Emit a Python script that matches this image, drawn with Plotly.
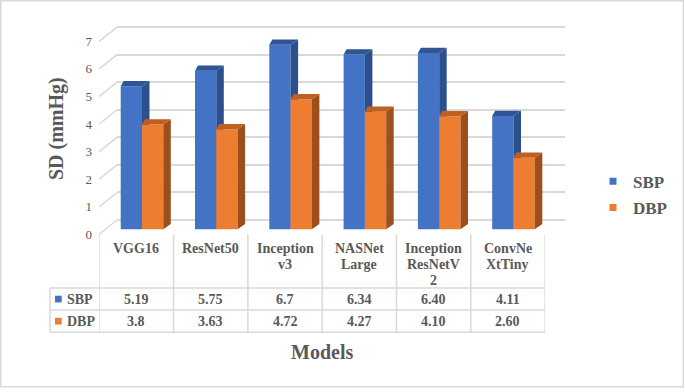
import numpy as np
import plotly.graph_objects as go

# ---------------- data ----------------
models = ["VGG16", "ResNet50", "Inception<br>v3", "NASNet<br>Large",
          "Inception<br>ResNetV<br>2", "ConvNe<br>XtTiny"]
sbp = [5.19, 5.75, 6.7, 6.34, 6.40, 4.11]
dbp = [3.8, 3.63, 4.72, 4.27, 4.10, 2.60]
sbp_text = ["5.19", "5.75", "6.7", "6.34", "6.40", "4.11"]
dbp_text = ["3.8", "3.63", "4.72", "4.27", "4.10", "2.60"]
series_names = ["SBP", "DBP"]
y_ticks = [0, 1, 2, 3, 4, 5, 6, 7]
y_title = "SD (mmHg)"
x_title = "Models"

# ---------------- style / geometry ----------------
W, H = 685, 392
BLUE, BLUE_SIDE, BLUE_TOP = "#4472C4", "#2C4F8E", "#2F5597"
ORANGE, ORANGE_SIDE, ORANGE_TOP = "#ED7D31", "#9C4E1B", "#BF5F20"
GRID = "#D9D9D9"
TEXT = "#595959"
FONT = "Liberation Serif"

S = 27.85            # px per unit on y
PY_TOP, PY_BOT = 20, 240
COL_L, COL_W = 99.3, 74.3
BACK_L, BACK_R = 117, 565
PY0_BACK, PY0_BAR, PY0_FRONT = 222.3, 231.7, 236.7
HDR_BOT, R1_BOT, R2_BOT, KEY_L = 291, 313.3, 335.7, 50

n = len(models)


def fy(py):
    return 1 - py / H


def fx(px):
    return px / W


def yrange(py0):
    return [(py0 - PY_BOT) / S, (py0 - PY_TOP) / S]


y_dom = [fy(PY_BOT), fy(PY_TOP)]
x2_dom = [fx(COL_L), fx(COL_L + n * COL_W)]

BAR_W = 21.3 / COL_W
OFF1 = -0.5 + 21.4 / COL_W
OFF2 = OFF1 + BAR_W
DX, DXL, DY = 7.5 / COL_W, 3 / COL_W, 5.3 / S

xpos = np.arange(n)


def faces(vals, off):
    sx, sy, tx, ty = [], [], [], []
    for i, v in enumerate(vals):
        xl = i + off
        xr = xl + BAR_W
        sx += [xr, xr + DX, xr + DX, xr, xr, None]
        sy += [0, DY, v + DY, v, 0, None]
        tx += [xl, xr, xr + DX, xl + DXL, xl, None]
        ty += [v, v, v + DY, v + DY, v, None]
    return sx, sy, tx, ty


fig = go.Figure()

for vals, off, col, side, top, yax in [
    (sbp, OFF1, BLUE, BLUE_SIDE, BLUE_TOP, "y2"),
    (dbp, OFF2, ORANGE, ORANGE_SIDE, ORANGE_TOP, "y3"),
]:
    fig.add_trace(go.Bar(x=xpos, y=vals, width=BAR_W, offset=off,
                         marker=dict(color=col, line=dict(width=0)),
                         xaxis="x2", yaxis=yax, showlegend=False,
                         hoverinfo="y"))
    sx, sy, tx, ty = faces(vals, off)
    fig.add_trace(go.Scatter(x=sx, y=sy, mode="lines", fill="toself",
                             fillcolor=side, line=dict(width=0, color=side),
                             xaxis="x2", yaxis=yax, showlegend=False,
                             hoverinfo="skip"))
    fig.add_trace(go.Scatter(x=tx, y=ty, mode="lines", fill="toself",
                             fillcolor=top, line=dict(width=0, color=top),
                             xaxis="x2", yaxis=yax, showlegend=False,
                             hoverinfo="skip"))

# legend entries
for name, col, grp in [(series_names[0], BLUE, "a"), (series_names[1], ORANGE, "b")]:
    fig.add_trace(go.Scatter(x=[None], y=[None], mode="markers", name=name,
                             legendgroup=grp,
                             marker=dict(symbol="square", size=7, color=col),
                             xaxis="x", yaxis="y4"))

shapes = []
# frame
shapes.append(dict(type="rect", xref="paper", yref="paper", x0=fx(0.8), x1=fx(683.3),
                   y0=fy(390.7), y1=fy(0.8), line=dict(color=GRID, width=1.5)))
# floor / wall diagonals
off_units = (PY0_FRONT - PY0_BACK) / S
for k in y_ticks:
    shapes.append(dict(type="line", xref="paper", yref="y", x0=fx(COL_L), x1=fx(BACK_L),
                       y0=k - off_units, y1=k, line=dict(color=GRID, width=1.5)))
# table horizontal lines
for py in [HDR_BOT, R1_BOT, R2_BOT]:
    shapes.append(dict(type="line", xref="paper", yref="paper", x0=fx(KEY_L), x1=x2_dom[1],
                       y0=fy(py), y1=fy(py), line=dict(color=GRID, width=1.5)))
# table vertical lines
for b in np.arange(n + 1) - 0.5:
    shapes.append(dict(type="line", xref="x2", yref="paper", x0=b, x1=b,
                       y0=fy(PY0_FRONT), y1=fy(R2_BOT), line=dict(color=GRID, width=1.5)))
shapes.append(dict(type="line", xref="paper", yref="paper", x0=fx(KEY_L), x1=fx(KEY_L),
                   y0=fy(HDR_BOT), y1=fy(R2_BOT), line=dict(color=GRID, width=1.5)))
# table legend keys
for py_c, col in [((HDR_BOT + R1_BOT) / 2, BLUE), ((R1_BOT + R2_BOT) / 2, ORANGE)]:
    shapes.append(dict(type="rect", xref="paper", yref="paper", x0=fx(55), x1=fx(61.7),
                       y0=fy(py_c + 3.4), y1=fy(py_c - 3.4), fillcolor=col, line=dict(width=0)))

ann = []
tfont = dict(family=FONT, size=14, color=TEXT, weight="bold")
for i, m in enumerate(models):
    for j, line in enumerate(m.split("<br>")):
        ann.append(dict(x=i, xref="x2", y=fy(251 + 16.2 * j), yref="paper", text=line,
                        showarrow=False, xanchor="center", yanchor="middle", font=tfont))
for row_vals, py_c in [(sbp_text, (HDR_BOT + R1_BOT) / 2), (dbp_text, (R1_BOT + R2_BOT) / 2)]:
    for i, t in enumerate(row_vals):
        ann.append(dict(x=i, xref="x2", y=fy(py_c), yref="paper", text=t,
                        showarrow=False, xanchor="center", yanchor="middle", font=tfont))
for name, py_c in [(series_names[0], (HDR_BOT + R1_BOT) / 2), (series_names[1], (R1_BOT + R2_BOT) / 2)]:
    ann.append(dict(x=fx(64.5), xref="paper", y=fy(py_c), yref="paper", text=name,
                    showarrow=False, xanchor="left", yanchor="middle", font=tfont))

fig.update_layout(
    width=W, height=H, margin=dict(l=0, r=0, t=0, b=0),
    paper_bgcolor="white", plot_bgcolor="rgba(0,0,0,0)",
    font=dict(family=FONT, color=TEXT),
    barmode="overlay",
    xaxis=dict(domain=[fx(BACK_L), fx(BACK_R)], range=[0, 1], visible=False, anchor="y"),
    yaxis=dict(domain=y_dom, range=yrange(PY0_BACK), anchor="x", tickvals=y_ticks,
               showgrid=True, gridcolor=GRID, gridwidth=1.5, showticklabels=False,
               zeroline=False, showline=False, ticks=""),
    xaxis2=dict(domain=x2_dom, range=[-0.5, n - 0.5], anchor="y2", showgrid=False,
                zeroline=False, showticklabels=False, showline=False, ticks="",
                title=dict(text=x_title, standoff=107,
                           font=dict(family=FONT, size=20, color=TEXT, weight="bold"))),
    yaxis2=dict(domain=y_dom, range=yrange(PY0_BAR), anchor="x2", visible=False),
    yaxis3=dict(overlaying="y2", range=yrange(PY0_BAR), anchor="x2", visible=False),
    yaxis4=dict(overlaying="y", range=yrange(PY0_FRONT), anchor="free", position=fx(92),
                side="left", tickvals=y_ticks, showgrid=False, zeroline=False,
                showline=False, ticks="",
                tickfont=dict(family=FONT, size=13, color=TEXT),
                title=dict(text=y_title, standoff=15,
                           font=dict(family=FONT, size=20, color=TEXT, weight="bold"))),
    legend=dict(x=fx(593), y=fy(165.5), xanchor="left", yanchor="top",
                font=dict(family=FONT, size=17, color=TEXT, weight="bold"),
                bgcolor="rgba(0,0,0,0)", tracegroupgap=1, traceorder="grouped"),
    shapes=shapes, annotations=ann,
)

fig.write_html("out.html", config={"displayModeBar": False},
               post_script="document.body.style.margin='0';")
